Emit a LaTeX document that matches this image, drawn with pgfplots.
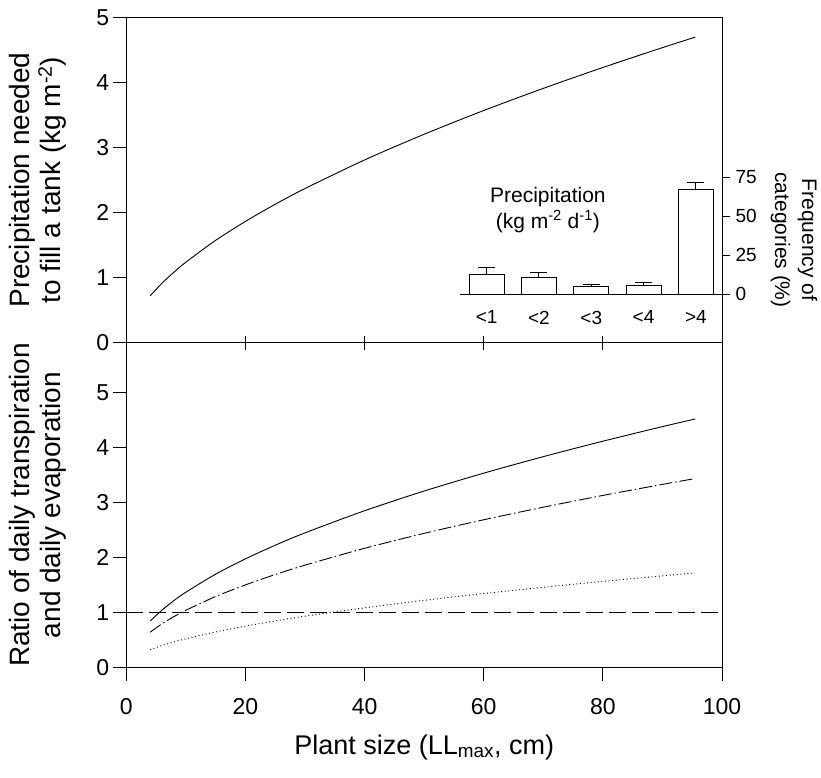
\documentclass[border=0pt]{standalone}
\usepackage{fontspec}
\setmainfont{Liberation Sans}
\usepackage{pgfplots}
\pgfplotsset{compat=1.18}
\pgfplotsset{
  mainax/.style={
    scale only axis, width=595.7pt, xmin=0, xmax=100,
    /pgf/number format/assume math mode=true,
    tick align=outside, major tick length=13.5pt,
    axis line style={line width=1pt},
    every tick/.style={line width=1pt, black},
    tick label style={font=\fontsize{23}{27}\selectfont},
    label style={font=\fontsize{28}{31}\selectfont, align=center},
    xtick pos=bottom, ytick pos=left,
    y label style={at={(axis description cs:-0.148,0.5)}, anchor=center},
    clip=false,
  },
}
\begin{document}
\begin{tikzpicture}
\path[use as bounding box] (0pt,0pt) rectangle (821pt,-777pt);

% ---------- top panel ----------
\begin{axis}[mainax, at={(126.3pt,-342.7pt)}, anchor=south west, height=325.4pt,
  ymin=0, ymax=5, ytick={0,1,2,3,4,5},
  xtick={0,20,40,60,80}, xticklabels={},
  x tick style={yshift=6.7pt},
  ylabel={Precipitation needed\\to fill a tank (kg m\textsuperscript{-2})}]
\addplot[black, line width=0.9pt, smooth] coordinates {
 (4,0.72) (6,0.915) (8,1.084) (10,1.237) (15,1.573) (20,1.864) (25,2.127)
 (30,2.369) (40,2.808) (50,3.203) (60,3.568) (70,3.908) (80,4.229) (90,4.534) (95.5,4.695)};
\end{axis}

% ---------- bottom panel ----------
\begin{axis}[mainax, at={(126.3pt,-667.3pt)}, anchor=south west, height=324.6pt,
  ymin=0, ymax=5.9, ytick={0,1,2,3,4,5},
  xtick={0,20,40,60,80,100},
  xticklabel style={yshift=-14pt},
  x label style={at={(axis description cs:0.5,-0.246)}, anchor=center,
     font=\fontsize{27}{31}\selectfont},
  xlabel={Plant size (LL\textsubscript{max}, cm)},
  ylabel={Ratio of daily transpiration\\and daily evaporation}]
\addplot[black, line width=0.9pt, dash pattern=on 17pt off 6pt] coordinates {(0,1) (100,1)};
\addplot[black, line width=0.9pt, smooth] coordinates {
 (4,0.84) (6,1.041) (8,1.213) (10,1.365) (15,1.693) (20,1.971) (25,2.219)
 (30,2.444) (40,2.846) (50,3.204) (60,3.529) (70,3.829) (80,4.110) (90,4.375) (95.5,4.514)};
\addplot[black, line width=0.9pt, smooth, dash pattern=on 13pt off 3pt on 1.5pt off 3pt] coordinates {
 (4,0.638) (6,0.791) (8,0.922) (10,1.037) (15,1.287) (20,1.498) (25,1.686)
 (30,1.857) (40,2.163) (50,2.435) (60,2.682) (70,2.910) (80,3.124) (90,3.325) (95.5,3.431)};
\addplot[black, line width=0.9pt, smooth, dash pattern=on 1pt off 2.6pt] coordinates {
 (4,0.319) (6,0.396) (8,0.461) (10,0.519) (15,0.643) (20,0.749) (25,0.843)
 (30,0.929) (40,1.081) (50,1.218) (60,1.341) (70,1.455) (80,1.562) (90,1.663) (95.5,1.715)};
\end{axis}

% ---------- inset ----------
\begin{axis}[scale only axis, at={(460pt,-294.3pt)}, anchor=south west,
  width=262pt, height=117pt, xmin=0.49, xmax=5.5, ymin=0, ymax=75,
  axis x line=bottom, axis y line=right,
  axis line style={-, line width=1pt},
  /pgf/number format/assume math mode=true,
  tick align=outside, major tick length=8pt,
  every tick/.style={line width=1pt, black},
  ytick={0,25,50,75},
  xtick={1,2,3,4,5},
  xticklabels={\textless 1,\textless 2,\textless 3,\textless 4,\textgreater 4},
  x tick style={draw=none},
  tick label style={font=\fontsize{19}{22}\selectfont},
  yticklabel style={xshift=2pt},
  xticklabel style={yshift=-5pt},
  ybar, bar width=35pt, clip=false]
\addplot[draw=black, fill=white, line width=1pt,
  error bars/.cd, y dir=plus, y explicit,
  error bar style={line width=1pt, black},
  error mark options={rotate=90, mark size=8.5pt, line width=1pt, black}]
  coordinates {
  (1,12.6) +- (0,4.3)
  (2,10.9) +- (0,3.2)
  (3,4.9) +- (0,1.5)
  (4,5.6) +- (0,2.1)
  (5,67.1) +- (0,4.7)};
\node[align=center, font=\fontsize{21}{26}\selectfont] at (axis cs:2.17,54)
  {Precipitation\\(kg m\textsuperscript{-2} d\textsuperscript{-1})};
\end{axis}

\node[rotate=-90, align=center, font=\fontsize{21}{27}\selectfont] at (794pt,-240pt)
  {Frequency of\\categories (\%)};
\end{tikzpicture}
\end{document}
